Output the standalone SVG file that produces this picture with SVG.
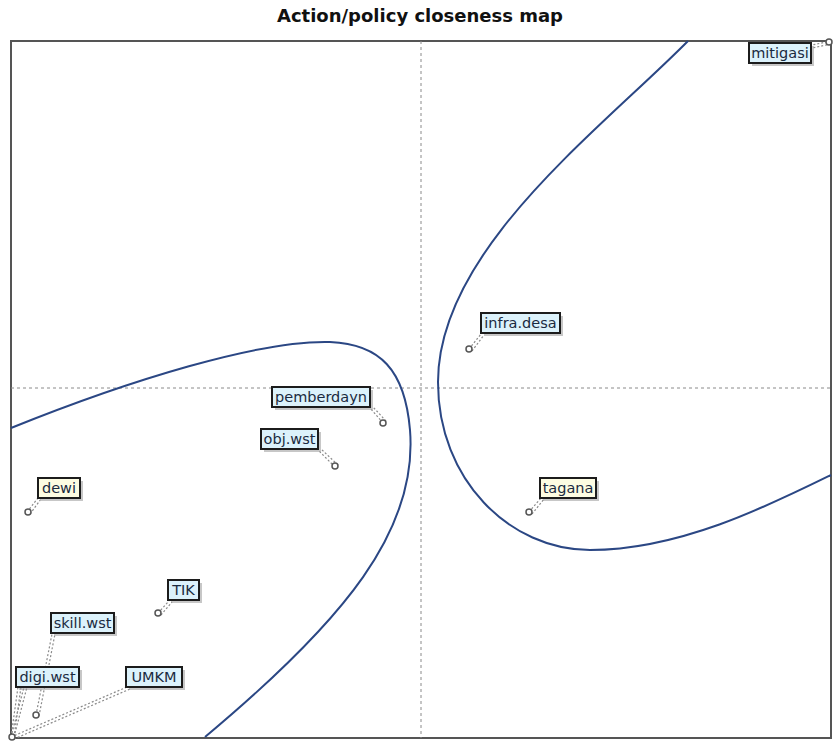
<svg xmlns="http://www.w3.org/2000/svg" width="833" height="753" viewBox="0 0 833 753">
<style>
.title{font-family:"DejaVu Sans","Liberation Sans",sans-serif;font-weight:bold;font-size:18px;fill:#111}
.lbl text{font-family:"DejaVu Sans","Liberation Sans",sans-serif;font-size:14.5px;fill:#1a2a40}
.box{stroke:#1c1c1c;stroke-width:2}
.blue{fill:#dcf2fb}
.yel{fill:#fdfce2}
.sh{fill:#999;opacity:0.55}
.lead{stroke:#8a8a8a;stroke-width:1.2;stroke-dasharray:2 2;fill:none}
.pt{fill:#fff;stroke:#555;stroke-width:1.5}
.curve{fill:none;stroke:#2b4784;stroke-width:2}
.axis{stroke:#8a8a8a;stroke-width:1;stroke-dasharray:3 3}
</style>
<rect width="833" height="753" fill="#fff"/>
<text class="title" x="420" y="22" text-anchor="middle">Action/policy closeness map</text>
<g id="frame">
<rect x="11" y="41" width="820" height="697" fill="none" stroke="#555" stroke-width="2"/>
<line class="axis" x1="421" y1="41" x2="421" y2="738"/>
<line class="axis" x1="11" y1="388" x2="831" y2="388"/>
</g>
<g id="curves">
<path class="curve" d="M11,428 C130,380 260,340 330,342 C380,344 405,370 410,430 C418,530 345,620 205,737"/>
<path class="curve" d="M688,41 C600,130 438,250 438,382 C438,480 510,550 590,550 C680,550 770,505 831,475"/>
</g>
<g id="connectors">
<path class="lead" d="M831,41 L812,45 M831,44 L812,48"/>
<path class="lead" d="M469,349 L481,334 M472,351 L484,335"/>
<path class="lead" d="M383,423 L370,408 M386,421 L373,407"/>
<path class="lead" d="M335,467 L318,450 M338,465 L321,449"/>
<path class="lead" d="M529,512 L541,498 M532,514 L544,499"/>
<path class="lead" d="M27,512 L38,498 M30,514 L41,499"/>
<path class="lead" d="M158,613 L169,601 M161,615 L172,602"/>
<path class="lead" d="M36,715 L52,634 M39,716 L55,634"/>
<path class="lead" d="M11,737 L18,687 M14,737 L21,687"/>
<path class="lead" d="M11,737 L24,687 M14,737 L27,687"/>
<path class="lead" d="M11,737 L127,687 M14,739 L130,689"/>
</g>
<g id="points">
<circle class="pt" cx="829" cy="42" r="3"/>
<circle class="pt" cx="469" cy="349" r="3"/>
<circle class="pt" cx="383" cy="423" r="3"/>
<circle class="pt" cx="335" cy="466" r="3"/>
<circle class="pt" cx="529" cy="512" r="3"/>
<circle class="pt" cx="28" cy="512" r="3"/>
<circle class="pt" cx="158" cy="613" r="3"/>
<circle class="pt" cx="36" cy="715" r="3"/>
<circle class="pt" cx="12" cy="737" r="3"/>
</g>
<g id="node-mitigasi" class="lbl">
<rect class="sh" x="752" y="46" width="62" height="20"/>
<rect class="box blue" x="749" y="43" width="62" height="20"/>
<text x="780" y="58" text-anchor="middle">mitigasi</text>
</g>
<g id="node-infra.desa" class="lbl">
<rect class="sh" x="484" y="316" width="79" height="20"/>
<rect class="box blue" x="481" y="313" width="79" height="20"/>
<text x="520.5" y="328" text-anchor="middle">infra.desa</text>
</g>
<g id="node-pemberdayn" class="lbl">
<rect class="sh" x="275" y="390" width="98" height="20"/>
<rect class="box blue" x="272" y="387" width="98" height="20"/>
<text x="321" y="402" text-anchor="middle">pemberdayn</text>
</g>
<g id="node-obj.wst" class="lbl">
<rect class="sh" x="264" y="432" width="57" height="20"/>
<rect class="box blue" x="261" y="429" width="57" height="20"/>
<text x="289.5" y="444" text-anchor="middle">obj.wst</text>
</g>
<g id="node-tagana" class="lbl">
<rect class="sh" x="543" y="481" width="56" height="20"/>
<rect class="box yel" x="540" y="478" width="56" height="20"/>
<text x="568" y="493" text-anchor="middle">tagana</text>
</g>
<g id="node-dewi" class="lbl">
<rect class="sh" x="41" y="481" width="42" height="20"/>
<rect class="box yel" x="38" y="478" width="42" height="20"/>
<text x="59" y="493" text-anchor="middle">dewi</text>
</g>
<g id="node-TIK" class="lbl">
<rect class="sh" x="171" y="583" width="31" height="20"/>
<rect class="box blue" x="168" y="580" width="31" height="20"/>
<text x="183.5" y="595" text-anchor="middle">TIK</text>
</g>
<g id="node-skill.wst" class="lbl">
<rect class="sh" x="54" y="616" width="63" height="20"/>
<rect class="box blue" x="51" y="613" width="63" height="20"/>
<text x="82.5" y="628" text-anchor="middle">skill.wst</text>
</g>
<g id="node-digi.wst" class="lbl">
<rect class="sh" x="19" y="670" width="63" height="20"/>
<rect class="box blue" x="16" y="667" width="63" height="20"/>
<text x="47.5" y="682" text-anchor="middle">digi.wst</text>
</g>
<g id="node-UMKM" class="lbl">
<rect class="sh" x="129" y="670" width="56" height="20"/>
<rect class="box blue" x="126" y="667" width="56" height="20"/>
<text x="154" y="682" text-anchor="middle">UMKM</text>
</g>
</svg>
